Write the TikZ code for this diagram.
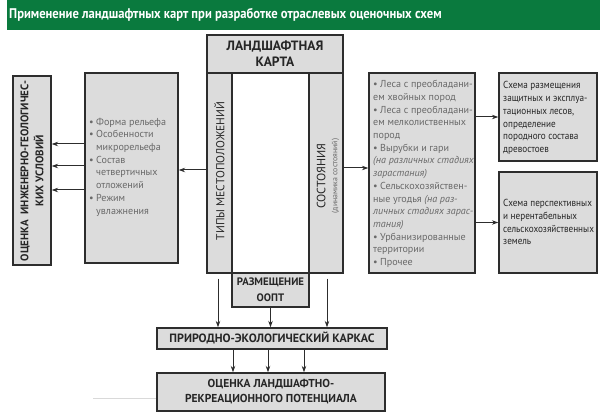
\documentclass[tikz,border=0pt]{standalone}
\usepackage{fontspec}
\setmainfont{PT Sans}
\usepackage{graphicx}
\usetikzlibrary{arrows.meta}

\definecolor{titlegreen}{RGB}{10,122,62}
\definecolor{boxgray}{RGB}{220,220,220}
\definecolor{linegray}{RGB}{45,45,45}
\definecolor{textgray}{RGB}{105,105,105}

\newcommand{\itm}{\makebox[7pt][l]{\textbullet}}
\newcommand{\cnt}{\hspace*{7pt}}

\tikzset{
  box/.style={draw=linegray, line width=1.3pt, fill=boxgray, inner sep=0pt},
  head/.style={font=\bfseries\fontsize{12}{15}\selectfont, align=center, text=black!85},
  items/.style={font=\fontsize{10.1}{12.7}\selectfont, text=textgray, align=left, inner sep=0pt},
  plain/.style={font=\fontsize{10.2}{12.9}\selectfont\addfontfeature{FakeStretch=0.9}, text=black!85, align=left, inner sep=0pt},
  arr/.style={line width=1pt, draw=linegray, -{Stealth[length=6.5pt,width=4.5pt]}},
}

\begin{document}
\begin{tikzpicture}[x=1pt,y=-1pt]
\useasboundingbox (0,0) rectangle (600,414);

% Title bar
\fill[titlegreen] (7,0) rectangle (600,30);
\node[anchor=west, inner sep=0pt, text=white] (title) at (9,15)
  {\scalebox{0.9}[1]{\bfseries\fontsize{14}{16}\selectfont Применение ландшафтных карт при разработке отраслевых оценочных схем}};

% faint line behind the bottom box
\draw[black!15, line width=0.6pt] (93,398) -- (375,398);

% Landscape map
\node[box, fill=white, minimum width=77pt, minimum height=200pt] (mid) at (270.5,173) {};
\node[box, minimum width=25pt, minimum height=200pt] (tipy) at (219.5,173) {};
\node[box, minimum width=34pt, minimum height=200pt] (sost) at (326,173) {};
\node[box, head, font=\bfseries\fontsize{13.5}{16}\selectfont, minimum width=136pt, minimum height=38pt] (map) at (275,54) {ЛАНДШАФТНАЯ\\КАРТА};
\node[box, head, font=\bfseries\fontsize{10.8}{16}\selectfont, minimum width=77pt, minimum height=34pt] (oopt) at (270.5,290) {РАЗМЕЩЕНИЕ\\ООПТ};

\node[rotate=90, font=\fontsize{11.5}{14}\selectfont, text=black!85] (tipytext) at (219.5,171) {ТИПЫ МЕСТОПОЛОЖЕНИЙ};
\node[rotate=90, align=center, font=\fontsize{12}{14}\selectfont, text=black!85] (sosttext) at (328,176)
  {СОСТОЯНИЯ\\[-2pt]{\fontsize{7.8}{9}\selectfont\color{textgray}(динамика состояний)}};

% Left side
\node[box, minimum width=93pt, minimum height=190pt] (relief) at (131.5,168) {};
\node[items, anchor=west] (relieftext) at (89,167)
  {\itm Форма рельефа\\
   \itm Особенности\\
   \cnt микрорельефа\\
   \itm Состав\\
   \cnt четвертичных\\
   \cnt отложений\\
   \itm Режим\\
   \cnt увлажнения};

\node[box, minimum width=38pt, minimum height=189pt] (geo) at (32,170.5) {};
\node[rotate=90, head, font=\bfseries\fontsize{11}{15}\selectfont] (geotext) at (32,171)
  {ОЦЕНКА\enspace ИНЖЕНЕРНО-ГЕОЛОГИЧЕС-\\КИХ УСЛОВИЙ};

% Right side
\node[box, minimum width=106pt, minimum height=200pt] (list) at (422,173) {};
\node[items, anchor=west] (listtext) at (373,174)
  {\itm Леса с преобладани-\\
   ем хвойных пород\\
   \itm Леса с преобладани-\\
   ем мелколиственных\\
   пород\\
   \itm Вырубки и гари\\
   \textit{(на различных стадиях}\\
   \textit{зарастания)}\\
   \itm Сельскохозяйствен-\\
   ные угодья \textit{(на раз-}\\
   \textit{личных стадиях зарас-}\\
   \textit{тания)}\\
   \itm Урбанизированные\\
   территории\\
   \itm Прочее};

\node[box, minimum width=98pt, minimum height=88pt] (forest) at (548,117) {};
\node[plain, anchor=west] (foresttext) at (503,118)
  {Схема размещения\\
   защитных и эксплуа-\\
   тационных лесов,\\
   определение\\
   породного состава\\
   древостоев};

\node[box, minimum width=98pt, minimum height=101pt] (agri) at (548,222.5) {};
\node[plain, anchor=west] (agritext) at (503,222)
  {Схема перспективных\\
   и нерентабельных\\
   сельскохозяйственных\\
   земель};

% Bottom
\node[box, head, minimum width=230pt, minimum height=21pt] (karkas) at (272,338.5) {ПРИРОДНО-ЭКОЛОГИЧЕСКИЙ КАРКАС};
\node[box, head, font=\bfseries\fontsize{11.5}{15}\selectfont, minimum width=228pt, minimum height=38pt] (potential) at (271,392)
  {ОЦЕНКА ЛАНДШАФТНО-\\РЕКРЕАЦИОННОГО ПОТЕНЦИАЛА};

% Arrows
\draw[arr] ([yshift=3pt]tipy.west) -- ([yshift=3pt]tipy.west -| relief.east);
\foreach \dy in {24,2,-22}
  \draw[arr] ([yshift=\dy pt]relief.west) -- ([yshift=\dy pt]relief.west -| geo.east);
\draw[arr] ([yshift=5pt]sost.east) -- ([yshift=5pt]sost.east -| list.west);
\draw[arr] (forest.west -| list.east) -- (forest.west);
\draw[arr] (agri.west -| list.east) -- (agri.west);
\draw[arr] ([xshift=-1.5pt,yshift=-5pt]tipy.south) -- ([xshift=-1.5pt]tipy.south |- karkas.north);
\draw[arr] (oopt.south) -- (oopt.south |- karkas.north);
\draw[arr] ([xshift=1pt,yshift=-5pt]sost.south) -- ([xshift=1pt]sost.south |- karkas.north);
\foreach \dx in {-39,-4,32}
  \draw[arr] ([xshift=\dx pt]karkas.south) -- ([xshift=\dx pt]karkas.south |- potential.north);

\end{tikzpicture}
\end{document}
